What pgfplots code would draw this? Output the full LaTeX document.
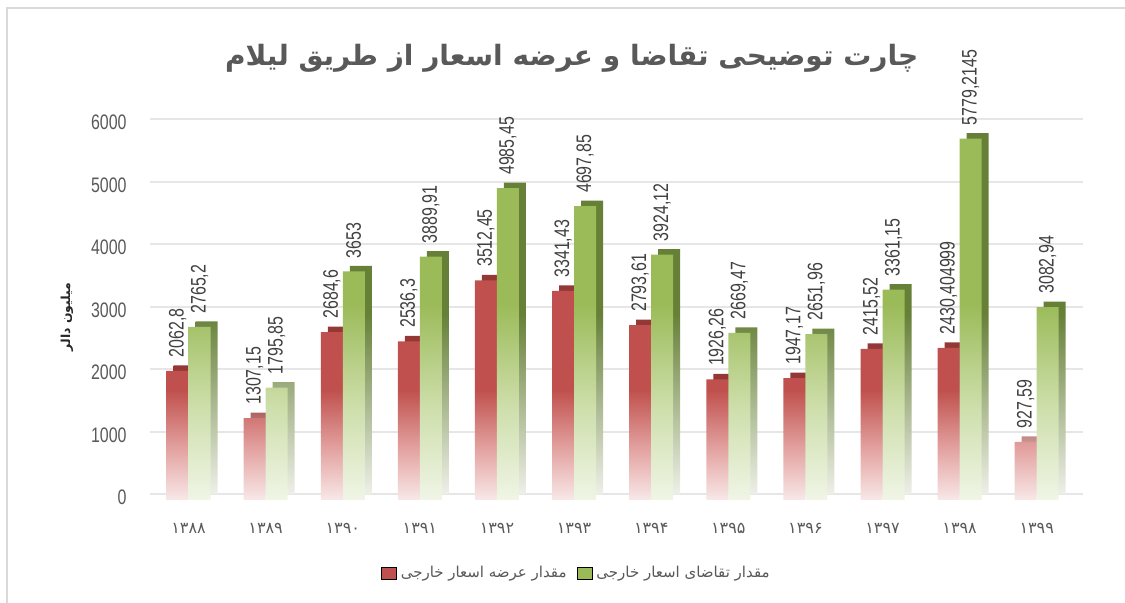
\documentclass[border=0pt]{standalone}
\usepackage{pgfplots}
\pgfplotsset{compat=1.18}
\usepackage{pgfplotstable}
\usepackage{graphicx}
\usepackage{fontspec}
\TeXXeTstate=1
\newfontfamily\arabicfont[Script=Arabic]{DejaVu Sans}
\newfontfamily\narrowfont{Liberation Sans}
\newcommand\sx[1]{\scalebox{0.76}[1]{#1}}

\definecolor{barred}{RGB}{192,80,77}
\definecolor{barredpale}{RGB}{248,232,232}
\definecolor{barredmid}{RGB}{226,160,158}
\definecolor{barredtop}{RGB}{148,56,53}
\definecolor{bargreen}{RGB}{155,187,89}
\definecolor{bargreenpale}{RGB}{240,245,230}
\definecolor{bargreenmid}{RGB}{205,222,170}
\definecolor{bargreenside}{RGB}{102,128,56}
\definecolor{bargreensidepale}{RGB}{238,240,232}
\definecolor{txtgray}{RGB}{89,89,89}
\definecolor{lblgray}{RGB}{64,64,64}
\definecolor{gridgray}{RGB}{230,230,230}
\definecolor{framegray}{RGB}{217,217,217}

\pgfdeclareverticalshading{redfront}{100bp}{color(0bp)=(barredpale); color(25bp)=(barredpale); color(37bp)=(barredmid); color(50bp)=(barred); color(100bp)=(barred)}
\pgfdeclareverticalshading{redback}{100bp}{color(0bp)=(barredpale); color(25bp)=(barredpale); color(50bp)=(barredtop); color(100bp)=(barredtop)}
\pgfdeclareverticalshading{greenfront}{100bp}{color(0bp)=(bargreenpale); color(25bp)=(bargreenpale); color(38bp)=(bargreenmid); color(52bp)=(bargreen); color(100bp)=(bargreen)}
\pgfdeclareverticalshading{greenback}{100bp}{color(0bp)=(bargreensidepale); color(25bp)=(bargreensidepale); color(50bp)=(bargreenside); color(100bp)=(bargreenside)}

\pgfplotstableread{
x s sl d dl
0 2062.8 2062,8 2765.2 2765,2
1 1307.15 1307,15 1795.85 1795,85
2 2684.6 2684,6 3653 3653
3 2536.3 2536,3 3889.91 3889,91
4 3512.45 3512,45 4985.45 4985,45
5 3341.43 3341,43 4697.85 4697,85
6 2793.61 2793,61 3924.12 3924,12
7 1926.26 1926,26 2669.47 2669,47
8 1947.17 1947,17 2651.96 2651,96
9 2415.52 2415,52 3361.15 3361,15
10 2430.404999 2430,404999 5779.2145 5779,2145
11 927.59 927,59 3082.94 3082,94
}\datatable

\begin{document}
\begin{tikzpicture}
\useasboundingbox (0,0) rectangle (562.5pt,301.5pt);
\draw[framegray, line width=0.75pt] (3.5pt,0) -- (3.5pt,297.5pt) -- (562.5pt,297.5pt);
\begin{axis}[
  at={(75pt,54.35pt)}, anchor=south west,
  width=466.5pt, height=187.5pt, scale only axis,
  xmin=-0.5, xmax=11.6, ymin=0, ymax=6000,
  clip=false,
  axis line style={draw=none},
  tick style={draw=none},
  ymajorgrids, grid style={gridgray, line width=1pt},
  ytick={0,1000,2000,3000,4000,5000,6000},
  yticklabels={\sx{0},\sx{1000},\sx{2000},\sx{3000},\sx{4000},\sx{5000},\sx{6000}},
  yticklabel style={font=\narrowfont\fontsize{10.5}{12}\selectfont, text=txtgray, anchor=east, inner sep=0pt, xshift=-11.5pt, yshift=-1.5pt},
  xtick={0,1,2,3,4,5,6,7,8,9,10,11},
  xticklabels={۱۳۸۸,۱۳۸۹,۱۳۹۰,۱۳۹۱,۱۳۹۲,۱۳۹۳,۱۳۹۴,۱۳۹۵,۱۳۹۶,۱۳۹۷,۱۳۹۸,۱۳۹۹},
  xticklabel style={font=\arabicfont\fontsize{8}{10}\selectfont, text=txtgray, anchor=center, inner sep=0pt, yshift=-13pt},
  title={\beginR چارت توضیحی تقاضا و عرضه اسعار از طریق لیلام\endR},
  title style={at={(0.452,1.13)}, anchor=center, font=\arabicfont\bfseries\fontsize{14}{17}\selectfont, text=txtgray},
  ylabel={\beginR میلیون دالر\endR},
  ylabel style={at={(-0.089,0.473)}, anchor=center, font=\arabicfont\bfseries\fontsize{6.2}{8}\selectfont, text=black!85},
  ybar, bar width=11pt,
  legend columns=2,
  legend style={draw=none, fill=none, at={(0.458,-0.21)}, anchor=center, font=\arabicfont\fontsize{7.5}{9}\selectfont, text=txtgray, /tikz/every even column/.append style={column sep=3pt}},
  legend image code/.code={\fill[#1] (0pt,-3pt) rectangle (7.5pt,3pt);},
  nodes near coords={\hspace*{6.5pt}\sx{\pgfplotspointmeta}},
  every node near coord/.append style={font=\narrowfont\fontsize{10.5}{12}\selectfont, text=lblgray, rotate=90, anchor=west, inner sep=0pt},
]
\addplot[forget plot, bar shift=-5.5pt, draw=none, shade, shading=redfront,
  preaction={shade, shading=redback, transform canvas={xshift=3.5pt,yshift=2.75pt}},
  yshift=-2.75pt, point meta=explicit symbolic] table[x=x,y=s,meta=sl]{\datatable};
\addplot[forget plot, bar shift=5.5pt, draw=none, shade, shading=greenfront,
  preaction={shade, shading=greenback, transform canvas={xshift=3.5pt,yshift=2.75pt}},
  yshift=-2.75pt, point meta=explicit symbolic] table[x=x,y=d,meta=dl]{\datatable};
\addlegendimage{fill=barred}
\addlegendentry{\beginR مقدار عرضه اسعار خارجی\endR}
\addlegendimage{fill=bargreen}
\addlegendentry{\beginR مقدار تقاضای اسعار خارجی\endR}
\end{axis}
\end{tikzpicture}
\end{document}
